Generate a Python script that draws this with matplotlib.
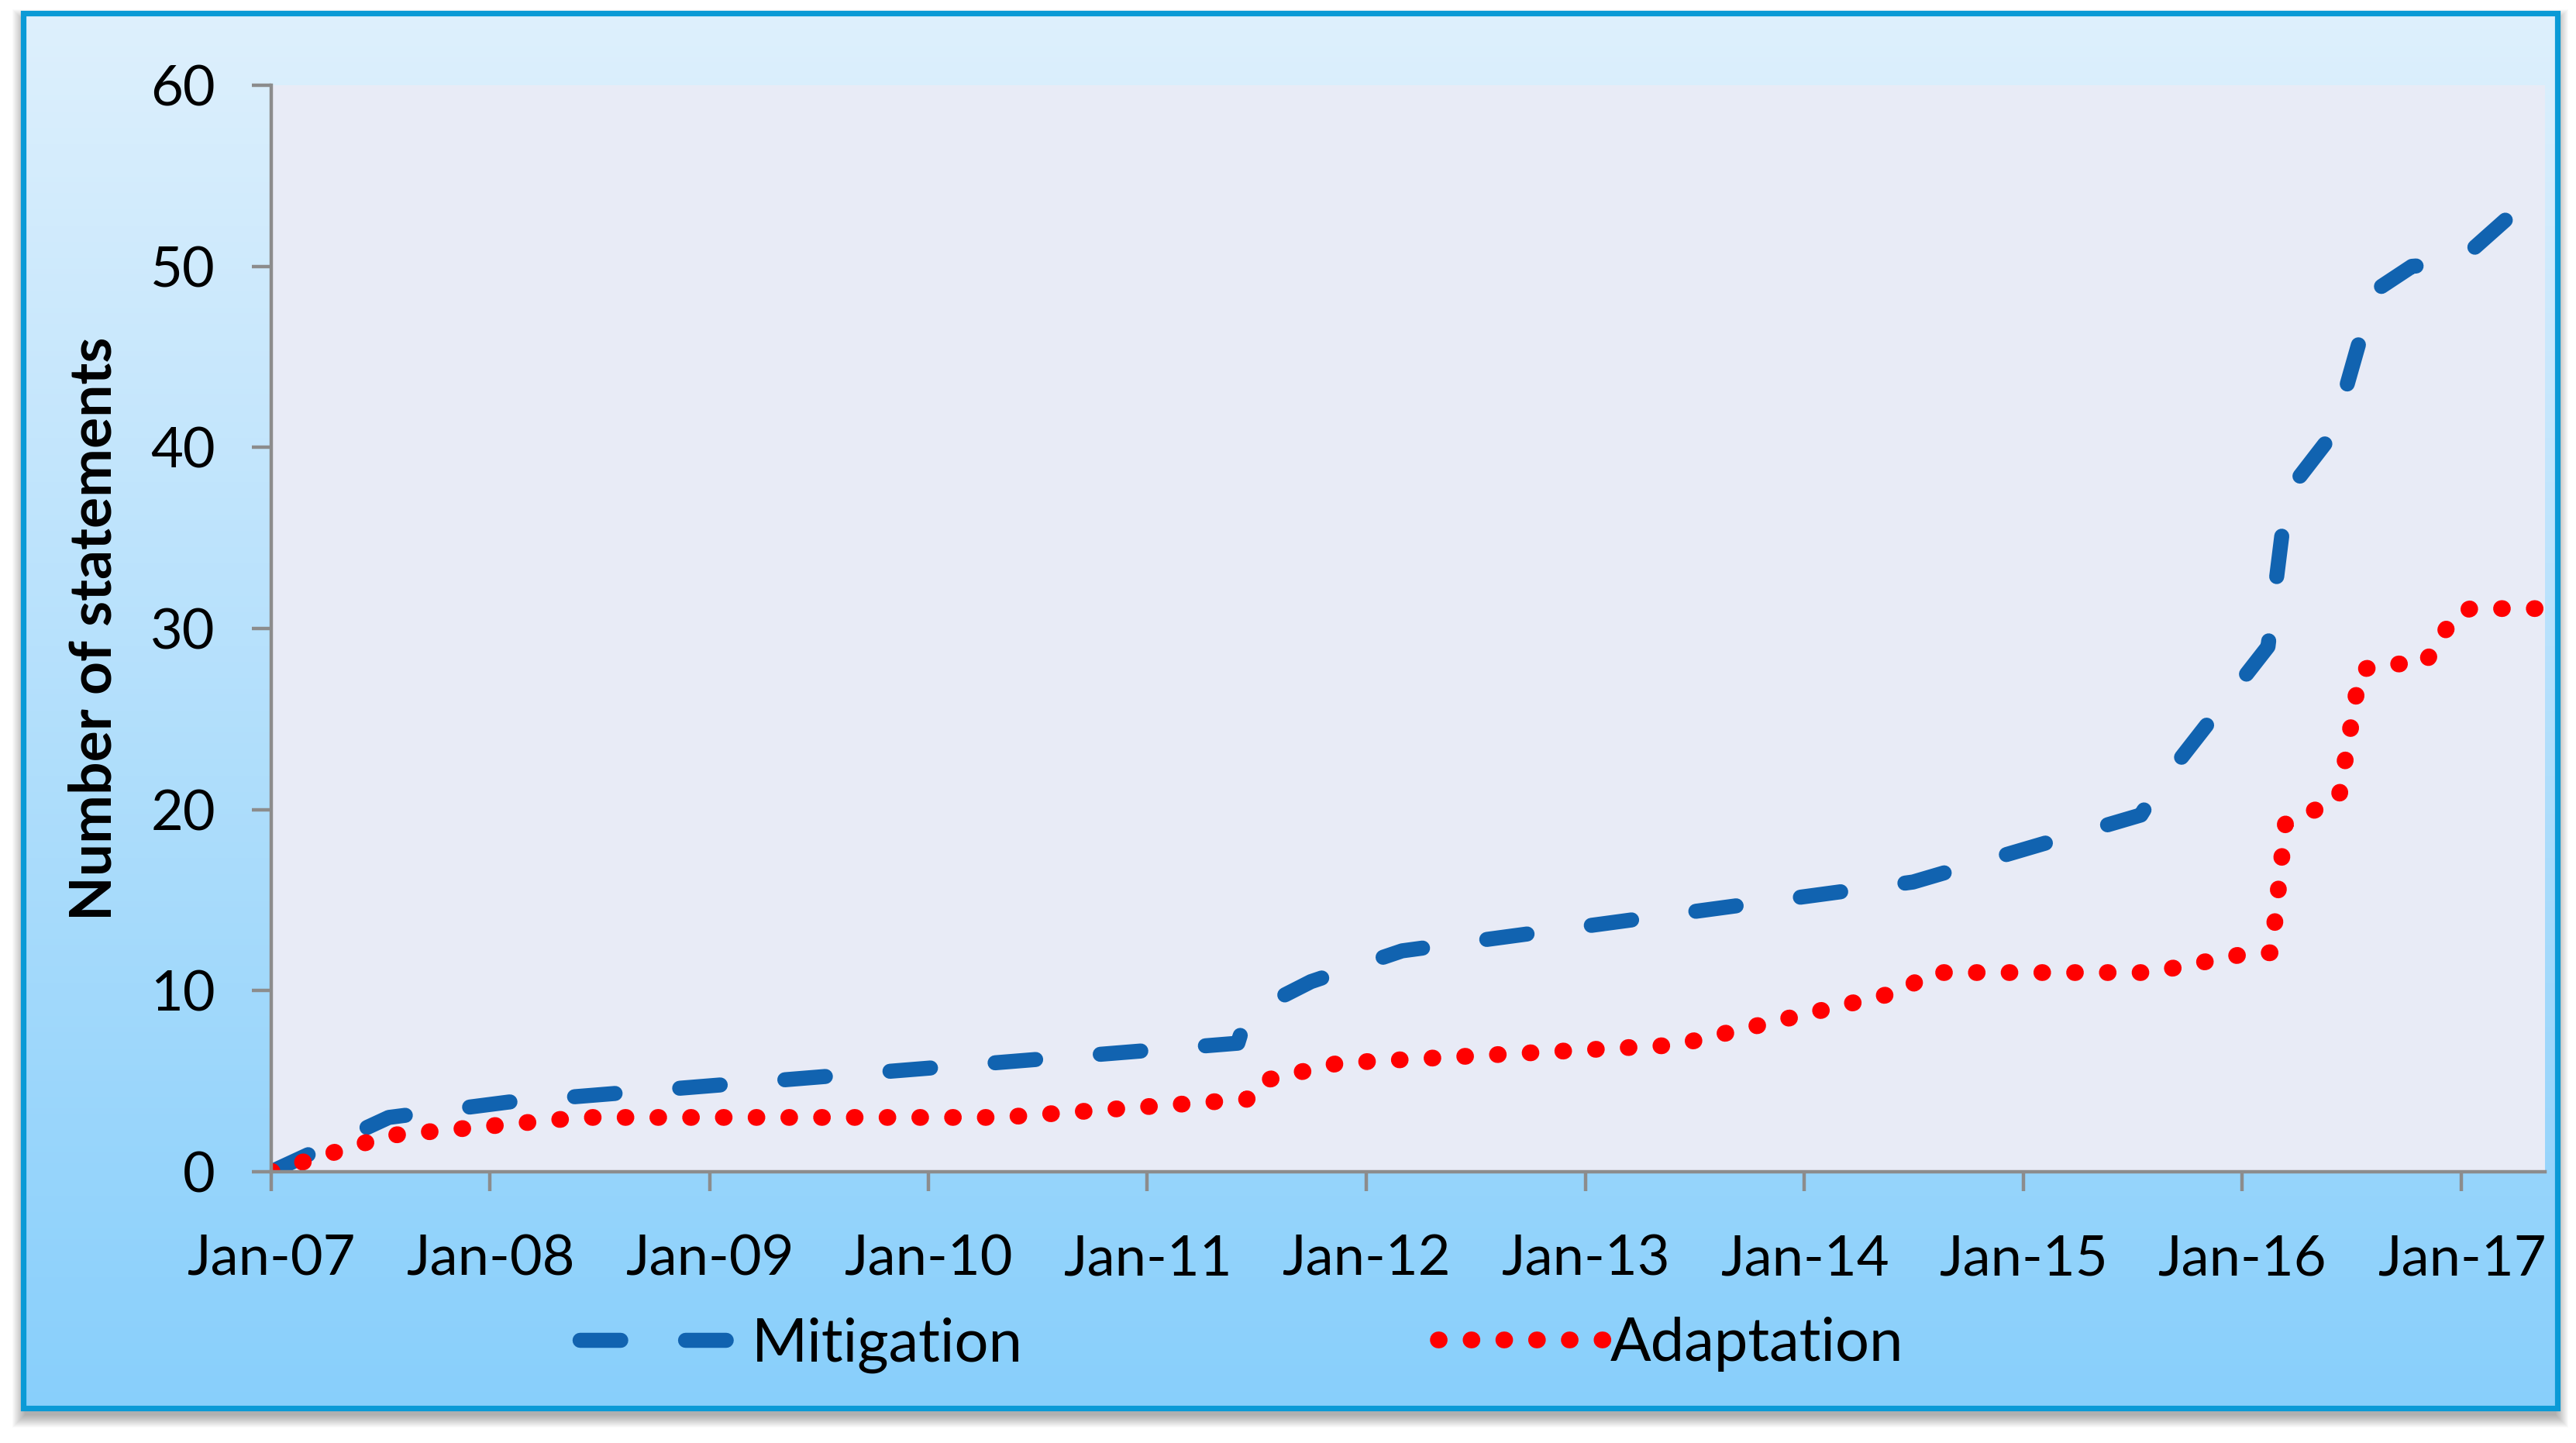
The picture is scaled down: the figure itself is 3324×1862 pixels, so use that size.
import numpy as np
import pandas as pd
import matplotlib
matplotlib.use('Agg')
import matplotlib.pyplot as plt
import matplotlib.dates as mdates
from matplotlib.patches import Rectangle
from matplotlib.lines import Line2D

plt.rcParams['font.family'] = ['Lato', 'DejaVu Sans']

# cumulative number of statements
mitigation_dates = ['2007-01-01', '2007-07-16', '2008-02-01', '2011-06-01', '2011-06-16',
                    '2011-10-01', '2012-03-01', '2014-07-01', '2015-07-16', '2015-08-13',
                    '2016-02-13', '2016-03-16', '2016-06-01', '2016-08-07', '2016-10-10',
                    '2016-12-25', '2017-05-20']
mitigation_counts = [0, 3.0, 3.85, 7.1, 8.7, 10.5, 12.2, 16.0, 19.7, 21.2,
                     29.0, 37.5, 40.8, 48.6, 50.0, 50.2, 54.5]

adaptation_dates = ['2007-01-01', '2007-07-16', '2008-06-01', '2010-05-01', '2011-06-16',
                    '2011-07-10', '2011-11-16', '2013-06-01', '2014-06-16', '2014-07-22',
                    '2014-08-16', '2015-08-01', '2016-01-01', '2016-02-19', '2016-03-13',
                    '2016-06-10', '2016-07-16', '2016-08-19', '2016-11-01', '2016-12-22',
                    '2017-01-16', '2017-05-19']
adaptation_counts = [0, 2.0, 3.0, 3.0, 4.0, 5.0, 6.0, 7.0, 10.0, 10.9,
                     11.0, 11.0, 12.0, 12.1, 19.2, 20.6, 27.7, 28.0, 28.1, 30.8,
                     31.1, 31.1]

series_names = ['Mitigation', 'Adaptation']
y_ticks = [0, 10, 20, 30, 40, 50, 60]

W, H, DPI = 3324, 1862, 200
fig = plt.figure(figsize=(W / DPI, H / DPI), dpi=DPI)
fig.patch.set_facecolor('white')

# --- background frame (pixel coordinates) ---
bg = fig.add_axes([0, 0, 1, 1], zorder=-10)
bg.set_xlim(0, W)
bg.set_ylim(0, H)
bg.axis('off')

fx0, fx1, fy0, fy1 = 30, 3300, 45, 1845
for i in range(1, 18):
    bg.add_patch(Rectangle((fx0 + 3 - i, fy0 - 8 - i), (fx1 - fx0) + 2 * i - 6,
                           (fy1 - fy0) + 2 * i - 4, facecolor='black',
                           edgecolor='none', alpha=0.018))

top_col = np.array([222, 240, 253]) / 255
bot_col = np.array([136, 207, 251]) / 255
t = np.linspace(0, 1, 256)[:, None, None]
grad = top_col * (1 - t) + bot_col * t
bg.imshow(grad, extent=(fx0, fx1, fy0, fy1), origin='upper', aspect='auto', zorder=1)
bg.add_patch(Rectangle((fx0, fy0), fx1 - fx0, fy1 - fy0, fill=False,
                       edgecolor='#0a9ad6', lw=2.6, zorder=2))

# --- plot area ---
ax = fig.add_axes([350 / W, (H - 1512) / H, (3284 - 350) / W, (1512 - 110) / H])
ax.set_facecolor('#e8ebf6')

m_dates = pd.to_datetime(mitigation_dates)
a_dates = pd.to_datetime(adaptation_dates)

mit_style = dict(color='#1163b0', lw=7, linestyle=(0, (2.7, 4.3)),
                 dash_capstyle='round', dash_joinstyle='round')
ada_style = dict(color='#ff0000', lw=7.8, linestyle=(0, (0.05, 1.9)),
                 dash_capstyle='round', dash_joinstyle='round')

ax.plot(m_dates, mitigation_counts, **mit_style)
ax.plot(a_dates, adaptation_counts, **ada_style)

ax.set_ylim(0, 60)
ax.set_yticks(y_ticks)
ax.set_xlim(pd.Timestamp('2007-01-01'), pd.Timestamp('2017-05-20'))
ax.xaxis.set_major_locator(mdates.YearLocator())
ax.xaxis.set_major_formatter(mdates.DateFormatter('%b-%y'))

for s in ['top', 'right']:
    ax.spines[s].set_visible(False)
for s in ['left', 'bottom']:
    ax.spines[s].set_color('#8c8c8c')
    ax.spines[s].set_linewidth(1.6)

ax.tick_params(axis='both', direction='out', length=9, width=1.6,
               color='#8c8c8c', labelsize=26, labelcolor='black')
ax.tick_params(axis='y', pad=17)
ax.tick_params(axis='x', pad=20)

ax.set_ylabel('Number of statements', fontsize=27, fontweight='bold')
ax.yaxis.set_label_coords(-0.066, 0.5)

handles = [Line2D([], [], **mit_style), Line2D([], [], **ada_style)]
fig.legend(handles, series_names, loc='center', bbox_to_anchor=(0.482, 0.068),
           ncol=2, frameon=False, fontsize=28, handlelength=2.75,
           handletextpad=0.1, columnspacing=6.9)

fig.savefig('out.png', dpi=DPI)
